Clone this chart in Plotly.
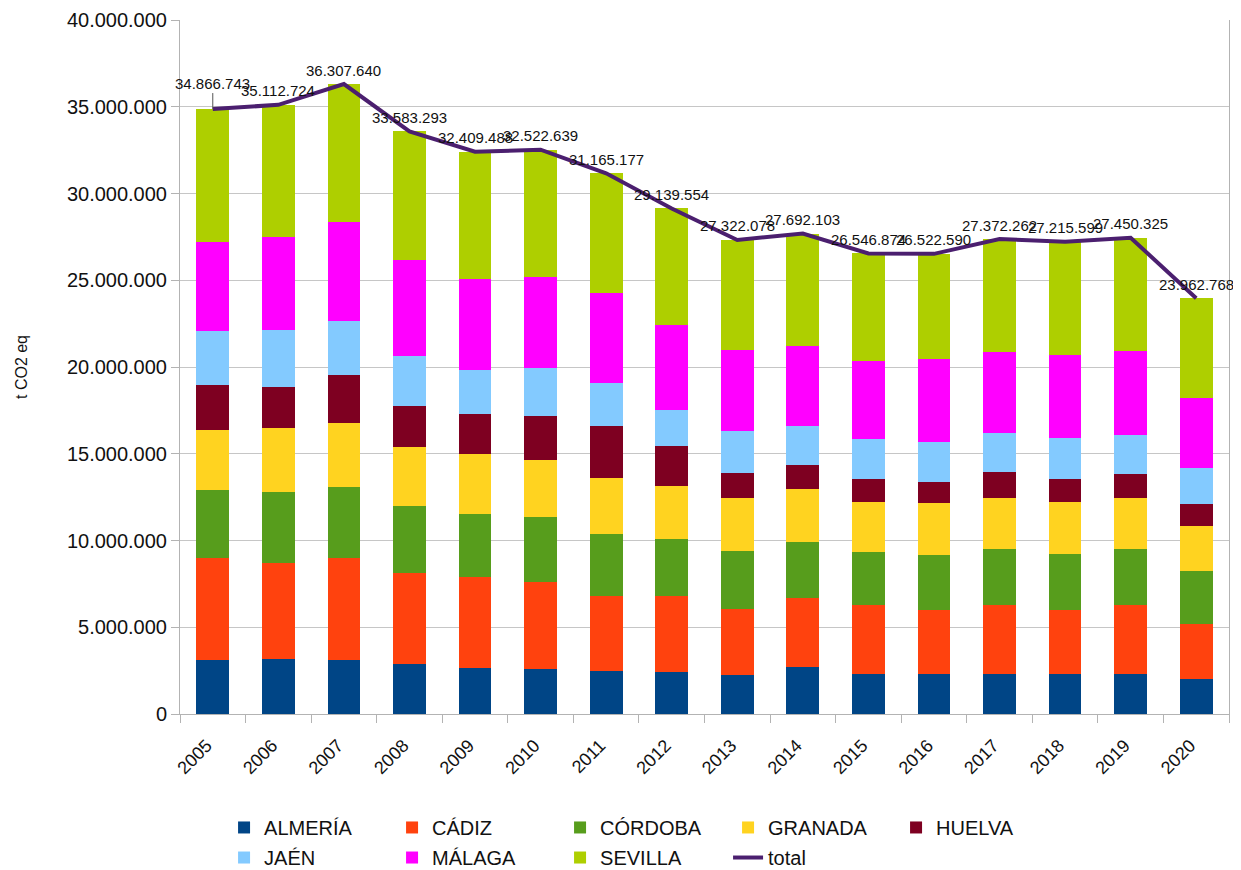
import plotly.graph_objects as go

years = [str(y) for y in range(2005, 2021)]

almeria = [3.13, 3.18, 3.13, 2.87, 2.64, 2.59, 2.47, 2.42, 2.24, 2.71, 2.28, 2.28, 2.33, 2.33, 2.28, 2.03]
cadiz = [5.87, 5.53, 5.87, 5.28, 5.27, 5.04, 4.34, 4.39, 3.81, 3.96, 3.98, 3.73, 3.98, 3.64, 3.98, 3.17]
cordoba = [3.93, 4.10, 4.09, 3.84, 3.63, 3.72, 3.58, 3.27, 3.35, 3.25, 3.08, 3.17, 3.20, 3.27, 3.25, 3.05]
granada = [3.46, 3.68, 3.70, 3.41, 3.46, 3.30, 3.22, 3.06, 3.06, 3.06, 2.90, 2.99, 2.96, 3.00, 2.96, 2.60]
huelva = [2.59, 2.38, 2.76, 2.36, 2.31, 2.54, 2.99, 2.31, 1.44, 1.39, 1.32, 1.22, 1.48, 1.32, 1.38, 1.26]
jaen = [3.11, 3.29, 3.13, 2.89, 2.54, 2.73, 2.50, 2.10, 2.42, 2.23, 2.30, 2.26, 2.27, 2.36, 2.24, 2.07]
malaga = [5.09, 5.35, 5.65, 5.49, 5.23, 5.28, 5.16, 4.89, 4.64, 4.62, 4.50, 4.82, 4.65, 4.78, 4.84, 4.05]
sevilla = [7.68, 7.60, 7.98, 7.44, 7.33, 7.32, 6.91, 6.70, 6.36, 6.47, 6.19, 6.05, 6.50, 6.52, 6.52, 5.73]

total = [34866743, 35112724, 36307640, 33583293, 32409488, 32522639, 31165177, 29139554,
         27322078, 27692103, 26546874, 26522590, 27372262, 27215599, 27450325, 23962768]

series = [
    ("ALMERÍA", almeria, "#004586", "legend"),
    ("CÁDIZ", cadiz, "#ff420e", "legend"),
    ("CÓRDOBA", cordoba, "#579d1c", "legend"),
    ("GRANADA", granada, "#ffd320", "legend"),
    ("HUELVA", huelva, "#7e0021", "legend"),
    ("JAÉN", jaen, "#83caff", "legend2"),
    ("MÁLAGA", malaga, "#ff00ff", "legend2"),
    ("SEVILLA", sevilla, "#aecf00", "legend2"),
]

FONT = "Liberation Sans, Arial, sans-serif"

fig = go.Figure()
for name, vals, color, leg in series:
    fig.add_trace(go.Bar(
        x=years, y=[v * 1e6 for v in vals], name=name,
        marker=dict(color=color, line=dict(width=0)), legend=leg,
    ))

fig.add_trace(go.Scatter(
    x=years, y=total, name="total", mode="lines",
    line=dict(color="#4b1f6f", width=4),
    legend="legend2",
))

# value labels above the total line (x is the category index);
# the first one sits on a short leader line
for i, v in enumerate(total):
    label = f"{v:,}".replace(",", ".")
    if i == 0:
        fig.add_annotation(x=i, y=v, text=label, showarrow=True, arrowhead=0,
                           arrowwidth=1, arrowcolor="#555555", ax=0, ay=-26,
                           font=dict(size=15, color="#111111"))
    else:
        fig.add_annotation(x=i, y=v, text=label, showarrow=False, yshift=14,
                           font=dict(size=15, color="#111111"))

legend_common = dict(
    orientation="h", xanchor="left", yanchor="top",
    font=dict(size=20, color="#111111", family=FONT),
    entrywidth=123, traceorder="normal", bgcolor="rgba(0,0,0,0)",
)

# page body adds an 8px offset, so margins are trimmed to keep the plot in place
fig.update_layout(
    width=1241, height=870,
    template="none",
    barmode="stack", bargap=0.5,
    separators=",.",
    font=dict(family=FONT, color="#111111"),
    paper_bgcolor="white", plot_bgcolor="white",
    margin=dict(l=172, r=20, t=12, b=164, autoexpand=False),
    legend=dict(x=0.042, y=-0.1354, **legend_common),
    legend2=dict(x=0.042, y=-0.1787, **legend_common),
    xaxis=dict(
        type="category", range=[-0.5, len(years) - 0.5],
        tickangle=-45, tickfont=dict(size=18),
        ticklabelshift=-6, ticklabelstandoff=13,
        showline=True, linecolor="#b3b3b3", linewidth=1,
        ticks="outside", tickson="boundaries", ticklen=8, tickcolor="#b3b3b3",
        showgrid=False, zeroline=False,
    ),
    yaxis=dict(
        range=[0, 40e6], dtick=5e6, tickformat=",d",
        tickfont=dict(size=20),
        showline=True, mirror=True, linecolor="#b3b3b3", linewidth=1,
        ticks="outside", ticklen=8, tickcolor="#b3b3b3",
        showgrid=True, gridcolor="#c6c6c6", gridwidth=1, zeroline=False,
        title=dict(text="t CO2 eq", font=dict(size=16), standoff=35),
        automargin=False,
    ),
)

fig.write_html("out.html")
